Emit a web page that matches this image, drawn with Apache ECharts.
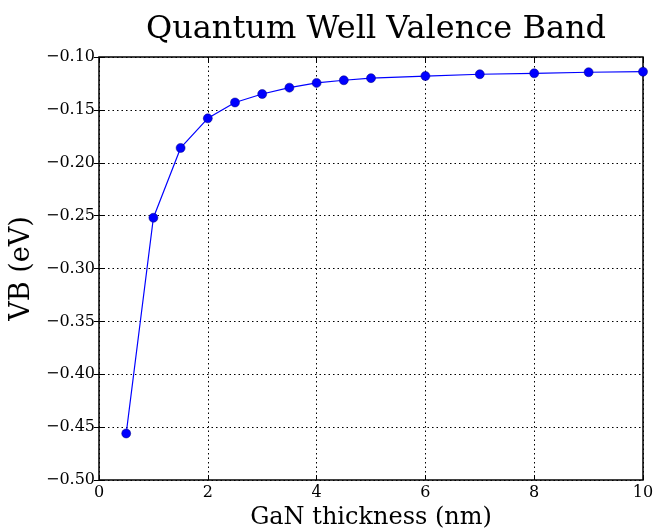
<!DOCTYPE html>
<html>
<head>
<meta charset="utf-8">
<script src="https://cdn.jsdelivr.net/npm/echarts@6/dist/echarts.min.js"></script>
<style>html,body{margin:0;padding:0;background:#fff;}#c{width:655px;height:531px;}</style>
</head>
<body>
<div id="c"></div>
<script>
var thickness = [0.5, 1.0, 1.5, 2.0, 2.5, 3.0, 3.5, 4.0, 4.5, 5.0, 6, 7, 8, 9, 10];
var vb = [-0.456, -0.252, -0.186, -0.158, -0.143, -0.135, -0.129, -0.1245, -0.122, -0.120, -0.118, -0.1163, -0.1154, -0.1144, -0.1139];
var titleText = 'Quantum Well Valence Band';
var xName = 'GaN thickness (nm)';
var yName = 'VB (eV)';

var font = '"DejaVu Serif", "Liberation Serif", serif';
var chart = echarts.init(document.getElementById('c'), null, {renderer: 'canvas'});
function fmtY(v) {
  var s = Math.abs(v).toFixed(2);
  return (v < -1e-9 ? '\u2212' : '') + s;
}
var gridLine = {show: true, lineStyle: {color: '#000', width: 1, type: [1.5, 3]}};
chart.setOption({
  animation: false,
  title: {
    text: titleText, left: 371, top: 9, textAlign: 'center',
    textStyle: {fontFamily: font, fontSize: 32, fontWeight: 'normal', color: '#000'}
  },
  grid: {left: 99, right: 12, top: 57, bottom: 51, show: true, borderColor: '#000', borderWidth: 1.5,
         backgroundColor: 'transparent', containLabel: false, outerBoundsMode: 'none'},
  xAxis: [{
    type: 'value', min: 0, max: 10, interval: 2,
    name: xName, nameLocation: 'middle', nameGap: 25,
    nameTextStyle: {fontFamily: font, fontSize: 24, color: '#000'},
    axisLine: {show: false},
    axisTick: {show: true, inside: true, length: 5, lineStyle: {color: '#000'}},
    axisLabel: {fontFamily: font, fontSize: 16, color: '#000', margin: 5},
    splitLine: gridLine
  }, {
    type: 'value', min: 0, max: 10, interval: 2, position: 'top',
    axisLine: {show: false},
    axisTick: {show: true, inside: true, length: 5, lineStyle: {color: '#000'}},
    axisLabel: {show: false}, splitLine: {show: false}
  }],
  yAxis: [{
    type: 'value', min: -0.5, max: -0.1, interval: 0.05,
    name: yName, nameLocation: 'middle', nameGap: 58,
    nameTextStyle: {fontFamily: font, fontSize: 27, color: '#000'},
    axisLine: {show: false},
    axisTick: {show: true, inside: true, length: 5, lineStyle: {color: '#000'}},
    axisLabel: {fontFamily: font, fontSize: 16, color: '#000', margin: 4, formatter: fmtY},
    splitLine: gridLine
  }, {
    type: 'value', min: -0.5, max: -0.1, interval: 0.05, position: 'right',
    axisLine: {show: false},
    axisTick: {show: true, inside: true, length: 5, lineStyle: {color: '#000'}},
    axisLabel: {show: false}, splitLine: {show: false}
  }],
  series: [{
    type: 'line',
    data: thickness.map(function (t, i) { return [t, vb[i]]; }),
    symbol: 'circle', symbolSize: 9,
    lineStyle: {color: '#0000ff', width: 1.2},
    itemStyle: {color: '#0000ff', borderColor: '#00007f', borderWidth: 0.5},
    clip: false
  }]
});
</script>
</body>
</html>
